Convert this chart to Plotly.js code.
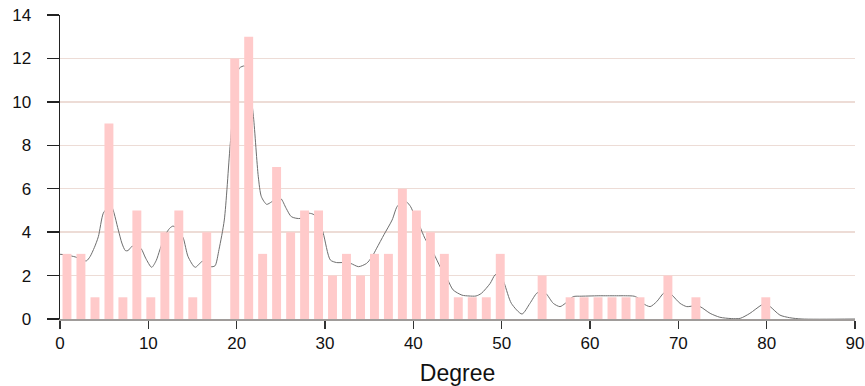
<!DOCTYPE html>
<html>
<head>
<meta charset="utf-8">
<script src="https://cdn.plot.ly/plotly-3.0.1.min.js"></script>
<style>html,body{margin:0;padding:0;background:#fff;}#chart{width:865px;height:386px;}</style>
</head>
<body>
<div id="chart"></div>
<script>
// Histogram bins (bin centres, degrees) and counts
const binCenters = [0.79, 2.37, 3.96, 5.54, 7.12, 8.70, 10.28, 11.87, 13.45, 15.03,
  16.61, 18.20, 19.78, 21.36, 22.94, 24.52, 26.11, 27.69, 29.27, 30.85,
  32.43, 34.02, 35.60, 37.18, 38.76, 40.35, 41.93, 43.51, 45.09, 46.67,
  48.26, 49.84, 51.42, 53.00, 54.58, 56.17, 57.75, 59.33, 60.91, 62.49,
  64.08, 65.66, 67.24, 68.82, 70.40, 71.99, 73.57, 75.15, 76.73, 78.31, 79.90];
const counts = [3, 3, 1, 9, 1, 5, 1, 4, 5, 1,
  4, 0, 12, 13, 3, 7, 4, 5, 5, 2,
  3, 2, 3, 3, 6, 5, 4, 3, 1, 1,
  1, 3, 0, 0, 2, 0, 1, 1, 1, 1,
  1, 1, 0, 2, 0, 1, 0, 0, 0, 0, 1];

// Smoothed density curve (scaled to counts)
const curveX = [0.0, 0.8, 1.3, 1.8, 2.4, 3.0, 3.4, 3.9, 4.34, 4.9, 5.4, 5.8, 6.6, 7.0, 7.4, 7.7, 8.1, 8.6, 9.17, 9.7,
  10.38, 10.9, 11.3, 11.9, 12.4, 12.8, 13.4, 13.96, 14.5, 15.3, 16.04, 16.5, 17.1, 17.55, 18.0, 18.6, 19.25, 19.8, 20.3, 20.9,
  21.4, 21.9, 22.45, 22.8, 23.4, 23.97, 24.5, 25.0, 25.6, 26.2, 27.2, 27.9, 28.5, 28.8, 29.3, 29.8, 30.6, 31.3, 32.1, 32.9,
  33.8, 34.7, 35.3, 35.85, 36.7, 37.6, 38.15, 38.7, 39.2, 39.7, 40.2, 40.75, 41.3, 42.3, 43.1, 43.9, 44.5, 45.5, 46.3, 47.1,
  47.7, 48.7, 49.25, 49.8, 50.3, 51.1, 52.3, 53.2, 54.0, 54.5, 55.0, 55.85, 56.6, 57.2, 58.1, 59.0, 60.0, 61.0, 62.0, 63.0,
  64.0, 65.0, 65.5, 66.0, 66.8, 67.55, 68.3, 68.8, 69.3, 70.2, 70.95, 71.7, 72.45, 73.6, 74.7, 76.0, 77.0, 78.1, 79.4, 79.9,
  80.4, 81.5, 82.6, 84.0, 90.0];
const curveY = [2.98, 2.95, 2.9, 2.85, 2.72, 2.68, 2.87, 3.3, 3.79, 4.87, 5.12, 5.2, 4.1, 3.5, 3.15, 3.15, 3.33, 3.38, 3.25, 2.8,
  2.38, 2.7, 3.18, 3.85, 4.17, 4.28, 4.1, 3.72, 2.87, 2.38, 2.64, 2.68, 2.41, 2.45, 3.2, 4.56, 7.94, 10.5, 11.55, 11.65,
  10.9, 9.32, 6.55, 5.63, 5.28, 5.4, 5.55, 5.55, 5.1, 4.71, 4.63, 4.87, 4.85, 4.79, 4.5, 3.95, 2.72, 2.6, 2.6, 2.56,
  2.41, 2.56, 2.85, 3.26, 3.9, 4.56, 5.17, 5.38, 5.4, 5.17, 4.7, 4.25, 3.72, 3.02, 2.35, 1.8, 1.34, 1.1, 1.06, 1.06,
  1.18, 1.64, 2.03, 2.1, 1.64, 0.72, 0.23, 0.72, 1.2, 1.25, 1.18, 0.72, 0.57, 0.72, 1.03, 1.05, 1.06, 1.07, 1.07, 1.07,
  1.07, 1.05, 0.95, 0.72, 0.57, 0.8, 1.18, 1.3, 1.1, 0.72, 0.57, 0.6, 0.57, 0.26, 0.08, 0.02, 0.03, 0.26, 0.64, 0.7,
  0.57, 0.18, 0.06, 0.0, 0.0];

const xTicks = [0, 10, 20, 30, 40, 50, 60, 70, 80, 90];
const yTicks = [0, 2, 4, 6, 8, 10, 12, 14];

const traces = [
  {
    type: 'scatter', mode: 'lines', x: curveX, y: curveY,
    xaxis: 'x', yaxis: 'y',
    line: {color: '#6e6e6e', width: 1, shape: 'spline', smoothing: 0.7},
    hoverinfo: 'skip'
  },
  {
    type: 'bar', x: binCenters, y: counts,
    xaxis: 'x2', yaxis: 'y2',
    marker: {color: '#ffcaca', line: {width: 0}}
  }
];

const layout = {
  width: 865, height: 386,
  margin: {l: 60, r: 10, t: 15, b: 67},
  paper_bgcolor: '#ffffff', plot_bgcolor: '#ffffff',
  showlegend: false,
  bargap: 0.36,
  font: {family: '"Liberation Sans", Arial, sans-serif', color: '#111111'},
  xaxis: {
    range: [0, 90], tickvals: xTicks, ticktext: xTicks.map(String),
    showgrid: false, zeroline: false,
    showline: true, linecolor: '#a09c9a', linewidth: 2,
    ticks: 'outside', ticklen: 8, tickwidth: 1.5, tickcolor: '#333333',
    tickfont: {size: 17, color: '#111111'},
    title: {text: 'Degree', font: {size: 23, color: '#111111'}, standoff: 12}
  },
  yaxis: {
    range: [0, 14], tickvals: yTicks, ticktext: yTicks.map(String),
    showgrid: true, gridcolor: '#eddcd6', gridwidth: 1.5,
    zeroline: false,
    showline: true, linecolor: '#222222', linewidth: 1.5,
    ticks: 'outside', ticklen: 12, tickwidth: 1.5, tickcolor: '#222222',
    ticklabelstandoff: 12,
    tickfont: {size: 17, color: '#111111'}
  },
  xaxis2: {
    range: [0, 90], overlaying: 'x', visible: false, showgrid: false, zeroline: false
  },
  yaxis2: {
    range: [0, 14], overlaying: 'y', visible: false, showgrid: false, zeroline: false
  }
};

Plotly.newPlot('chart', traces, layout, {displayModeBar: false, staticPlot: true});
</script>
</body>
</html>
